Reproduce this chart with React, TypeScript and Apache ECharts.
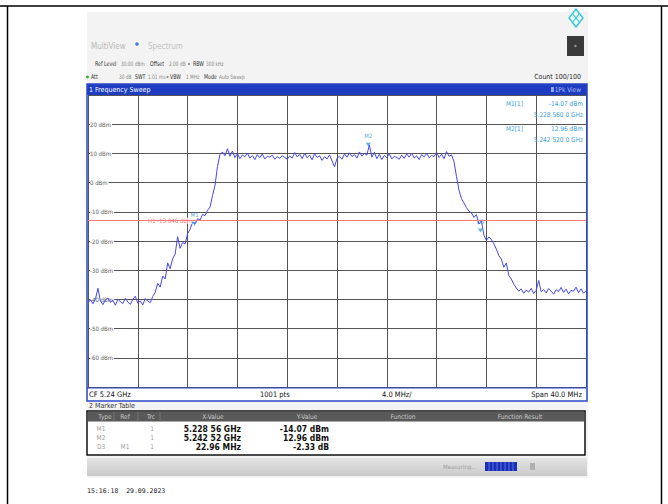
import React, { useEffect, useRef } from "react";
import * as echarts from "echarts";

// ---------- data ----------
const START_MHZ = 5220;
const STOP_MHZ = 5260;
const STEP_MHZ = 0.2;
const DIV_MHZ = 4;
const TOP_DBM = 30;
const BOTTOM_DBM = -70;
const DIV_DB = 10;

// trace level (dBm), one value every 0.2 MHz from 5220 MHz to 5260 MHz
const traceDbm: number[] = [
  -41.2, -40.1, -41.5, -39.8, -36.2, -40.6, -41.8, -40.2, -39.5, -41.0,
  -40.3, -42.0, -39.9, -40.8, -41.4, -39.6, -40.9, -41.7, -40.0, -38.9,
  -41.3, -40.5, -41.9, -39.7, -40.6, -41.1,
  -39.0, -37.5, -34.5, -35.8, -32.0, -33.0, -27.5, -29.5, -26.0, -24.5,
  -18.5, -22.5, -20.5, -21.0, -17.5, -16.0, -13.5, -14.1, -12.4, -12.8,
  -10.9, -11.3, -9.5, -8.4, -4.5, -1.0, 5.5,
  9.6, 10.5, 9.2, 11.6, 9.0, 10.8, 8.6, 9.9, 8.2, 9.5,
  8.8, 10.1, 8.4, 9.3, 7.9, 9.6, 8.5, 9.8, 8.1, 9.0,
  8.7, 9.4, 8.0, 8.9, 8.3, 9.2, 8.6, 8.0, 9.1, 8.4,
  10.3, 8.8, 9.7, 8.2, 10.0, 8.5, 9.4, 7.8, 9.9, 8.6,
  9.2, 7.6, 8.9, 8.1, 9.5, 7.4, 5.4, 8.3, 9.0, 8.0,
  9.8, 8.7, 10.2, 8.9, 9.6, 8.4, 10.5, 9.1, 10.0, 9.4,
  12.9, 8.7, 10.4, 8.2, 9.7, 7.9, 9.3, 8.5, 9.9, 8.1,
  9.0, 8.6, 8.0, 9.4, 8.3, 9.8, 8.7, 10.1, 8.4, 9.2,
  7.9, 9.6, 8.8, 10.0, 8.5, 9.3, 8.9, 10.4, 8.6, 9.7,
  8.2, 10.6, 9.0, 9.5,
  7.2, 2.0, -2.6, -5.5, -7.0, -8.6, -9.8, -10.4, -11.9, -11.0,
  -14.2, -13.1, -18.0, -19.8, -18.6, -19.5, -21.0, -22.8, -25.0, -26.2,
  -29.0, -27.5, -31.8, -33.0, -34.8, -36.1,
  -37.2, -36.4, -37.9, -36.8, -37.5, -36.2, -38.0, -36.9, -33.5, -37.4,
  -36.6, -37.8, -36.3, -37.1, -38.2, -36.7, -37.3, -35.9, -37.6, -36.5,
  -38.1, -36.9, -37.2, -35.8, -37.7, -36.4, -37.9, -37.0,
];

const limitH1Dbm = -13.046;
const limitH1Text = "H1 -13.046 dBm";
const limitH1LabelMHz = 5226.6;

const markerNames = ["M1", "M2", "D3"];
const markerFreqMHz = [5228.56, 5242.52, 5251.52];
const markerDbm = [-14.07, 12.96, -16.4];

const infoLabels = ["M1[1]", "M2[1]"];
const infoLevels = ["-14.07 dBm", "12.96 dBm"];
const infoFreqs = ["5.228 560 0 GHz", "5.242 520 0 GHz"];

const footerTexts = ["CF 5.24 GHz", "1001 pts", "4.0 MHz/", "Span 40.0 MHz"];

const tableHeaders = ["Type", "Ref", "Trc", "X-Value", "Y-Value", "Function", "Function Result"];
const tableType = ["M1", "M2", "D3"];
const tableRef = ["", "", "M1"];
const tableTrc = ["1", "1", "1"];
const tableX = ["5.228 56 GHz", "5.242 52 GHz", "22.96 MHz"];
const tableY = ["-14.07 dBm", "12.96 dBm", "-2.33 dB"];

const timestampText = "15:16:18  29.09.2023";

// ---------- styles ----------
const F = '"Liberation Sans Narrow", "DejaVu Sans Condensed", "Liberation Sans", sans-serif';
const CF = '"DejaVu Sans Condensed", "Liberation Sans Narrow", sans-serif';
const MARKER_BLUE = "#3a9ee0";

function txt(x: number, y: number, text: string, o: any = {}) {
  return {
    type: "text",
    x,
    y,
    scaleX: o.sx ?? 1,
    z: o.z ?? 8,
    silent: true,
    style: {
      text,
      fill: o.color ?? "#333",
      fontSize: o.size ?? 7,
      fontFamily: o.family ?? F,
      fontWeight: o.weight ?? "normal",
      align: o.align ?? "left",
      verticalAlign: "middle",
    },
  };
}
function rect(x: number, y: number, w: number, h: number, style: any, z = 5) {
  return { type: "rect", shape: { x, y, width: w, height: h }, style, z, silent: true };
}
function ln(x1: number, y1: number, x2: number, y2: number, stroke: string, lineWidth = 1, z = 7) {
  return { type: "line", shape: { x1, y1, x2, y2 }, style: { stroke, lineWidth }, z, silent: true };
}

function buildGraphics() {
  const g: any[] = [];
  // screenshot background
  g.push(rect(87, 12, 501, 466, { fill: "#f3f3f3" }, 0));
  // plot white background (incl. footer row)
  g.push(rect(88, 95, 498, 306, { fill: "#ffffff" }, 1));

  // document frame
  g.push(ln(0, 6, 668, 6, "#000", 1.5, 9));
  g.push(ln(7.5, 6, 7.5, 504, "#000", 1.5, 9));
  g.push(ln(661.5, 6, 661.5, 504, "#000", 1.5, 9));

  // header
  g.push(txt(91, 46, "MultiView", { size: 8, color: "#b8b8b8" }));
  g.push({ type: "circle", shape: { cx: 137, cy: 44, r: 1.8 }, style: { fill: "#3b82d6" }, z: 8 });
  g.push(txt(148, 46, "Spectrum", { size: 8, color: "#c2c2c2" }));
  g.push(rect(567, 36, 17, 20, { fill: "#3a3a3a" }, 6));
  g.push({ type: "circle", shape: { cx: 575.5, cy: 46, r: 1.2 }, style: { fill: "#9a9a9a" }, z: 7 });
  // logo
  g.push({
    type: "polygon",
    shape: { points: [[576, 9], [583, 18], [576, 27], [569, 18]] },
    style: { fill: "#eafafc", stroke: "#38c6d6", lineWidth: 1.4 },
    z: 7,
  });
  g.push({
    type: "polyline",
    shape: { points: [[572.5, 13.5], [579.5, 22.5]] },
    style: { stroke: "#38c6d6", lineWidth: 1.2 },
    z: 8,
  });
  g.push({
    type: "polyline",
    shape: { points: [[579.5, 13.5], [572.5, 22.5]] },
    style: { stroke: "#38c6d6", lineWidth: 1.2 },
    z: 8,
  });

  // settings rows (narrowed text)
  const dark = "#2e2e2e";
  const light = "#8a8a8a";
  const L = { color: dark, size: 6.5, sx: 0.8 };
  const V = { color: light, size: 6, sx: 0.8 };
  g.push(txt(95, 64, "Ref Level", L));
  g.push(txt(121, 64, "30.00 dBm", V));
  g.push(txt(150, 64, "Offset", L));
  g.push(txt(169, 64, "2.00 dB", V));
  g.push({ type: "circle", shape: { cx: 189, cy: 64, r: 1.1 }, style: { fill: "#888" }, z: 8 });
  g.push(txt(193, 64, "RBW", L));
  g.push(txt(206, 64, "300 kHz", V));

  g.push({ type: "circle", shape: { cx: 87.5, cy: 77, r: 1.5 }, style: { fill: "#3cb043" }, z: 8 });
  g.push(txt(91, 77, "Att", L));
  g.push(txt(119, 77, "30 dB", V));
  g.push(txt(135, 77, "SWT", L));
  g.push(txt(148, 77, "1.01 ms", V));
  g.push({ type: "circle", shape: { cx: 167.5, cy: 77, r: 1.1 }, style: { fill: "#888" }, z: 8 });
  g.push(txt(170, 77, "VBW", L));
  g.push(txt(186, 77, "1 MHz", V));
  g.push(txt(204, 77, "Mode", L));
  g.push(txt(219, 77, "Auto Sweep", V));
  g.push(txt(581, 77, "Count 100/100", { color: dark, align: "right" }));

  // blue title bar
  g.push(rect(87, 84, 500, 11, { fill: "#1d3cc2" }, 6));
  g.push(txt(89, 89.5, "1 Frequency Sweep", { color: "#ffffff", size: 7 }));
  g.push(txt(581, 89.5, "1Pk View", { color: "#aebcf2", size: 6.5, align: "right" }));
  g.push(rect(551, 87, 3, 5, { fill: "#8ea2ee" }, 7));

  // window frame
  g.push(rect(87, 84, 500, 317, { fill: "none", stroke: "#2b47c8", lineWidth: 1.5 }, 7));
  g.push(ln(87, 388, 587, 388, "#2b47c8", 1, 7));

  // marker info (top-right)
  const infoY = [103.5, 128.5];
  const freqY = [114.5, 139.5];
  infoLabels.forEach((l, i) => {
    g.push(txt(506, infoY[i], l, { color: MARKER_BLUE, size: 6.5 }));
    g.push(txt(583, infoY[i], infoLevels[i], { color: MARKER_BLUE, size: 6.5, align: "right" }));
    g.push(txt(583, freqY[i], infoFreqs[i], { color: MARKER_BLUE, size: 6.5, align: "right" }));
  });

  // footer row
  g.push(txt(89, 394.5, footerTexts[0], { color: "#111", size: 7.5 }));
  g.push(txt(260, 394.5, footerTexts[1], { color: "#111", size: 7.5 }));
  g.push(txt(382, 394.5, footerTexts[2], { color: "#111", size: 7.5 }));
  g.push(txt(582, 394.5, footerTexts[3], { color: "#111", size: 7.5, align: "right" }));

  // marker table
  g.push(txt(89, 406, "2 Marker Table", { color: "#333", size: 7 }));
  g.push(rect(87, 411, 498, 44, { fill: "#ffffff", stroke: "#111", lineWidth: 1.5 }, 4));
  g.push(rect(88, 412, 496, 9.5, { fill: "#595959" }, 5));
  const headX = [105, 125, 151, 213, 307, 403, 520];
  tableHeaders.forEach((h, i) => {
    g.push(txt(headX[i], 417, h, { color: "#c9c9c9", size: 6.5, align: "center" }));
  });
  [114, 138, 160].forEach((x) => g.push(ln(x, 412, x, 421.5, "#777", 1, 6)));
  const rowY = [428.5, 437.5, 446.5];
  tableType.forEach((t, i) => {
    g.push(txt(101, rowY[i], t, { color: "#9a9a9a", size: 6.5, align: "center" }));
    if (tableRef[i]) g.push(txt(125, rowY[i], tableRef[i], { color: "#9a9a9a", size: 6.5, align: "center" }));
    g.push(txt(152, rowY[i], tableTrc[i], { color: "#9a9a9a", size: 6.5, align: "center" }));
    g.push(txt(241, rowY[i], tableX[i], { color: "#111", size: 8.5, weight: "bold", family: CF, align: "right" }));
    g.push(txt(329, rowY[i], tableY[i], { color: "#111", size: 8.5, weight: "bold", family: CF, align: "right" }));
  });

  // status bar
  g.push(
    rect(87, 458, 500, 18, {
      fill: {
        type: "linear", x: 0, y: 0, x2: 0, y2: 1,
        colorStops: [
          { offset: 0, color: "#e4e4e4" },
          { offset: 1, color: "#cacaca" },
        ],
      },
    }, 4)
  );
  g.push(txt(443, 466, "Measuring...", { color: "#a0a0a0", size: 6 }));
  g.push(rect(485, 462, 32, 9, { fill: "#1a2fb8" }, 5));
  [489, 493, 497, 501, 505, 509, 513].forEach((x) => g.push(ln(x, 462, x, 471, "#5b70e2", 1, 6)));
  g.push(rect(530, 463, 5, 7, { fill: "#b0b0b0" }, 5));

  // timestamp
  g.push(txt(87, 491, timestampText, { color: "#1a1a1a", size: 6.5, family: '"DejaVu Sans Mono", monospace' }));
  return g;
}

export default function App() {
  const ref = useRef<HTMLDivElement>(null);
  useEffect(() => {
    if (!ref.current) return;
    const chart = echarts.init(ref.current, undefined, { renderer: "svg" });
    const option: any = {
      animation: false,
      backgroundColor: "#ffffff",
      grid: { left: 88, top: 95, width: 498, height: 292, show: false, containLabel: false, outerBoundsMode: "none" },
      xAxis: {
        type: "value",
        min: START_MHZ,
        max: STOP_MHZ,
        interval: DIV_MHZ,
        z: 2,
        axisLine: { show: false },
        axisTick: { show: false },
        axisLabel: { show: false },
        splitLine: { show: true, lineStyle: { color: "#555555", width: 1 } },
      },
      yAxis: {
        type: "value",
        min: BOTTOM_DBM,
        max: TOP_DBM,
        interval: DIV_DB,
        z: 2,
        axisLine: { show: false },
        axisTick: { show: false },
        splitLine: { show: true, lineStyle: { color: "#555555", width: 1 } },
        axisLabel: {
          show: true,
          inside: true,
          margin: 2,
          fontSize: 6,
          fontFamily: F,
          color: "#5a5a5a",
          backgroundColor: "#ffffff",
          padding: [0, 1, 0, 0],
          formatter: (v: number) => (v === TOP_DBM || v === BOTTOM_DBM ? "" : `${v} dBm`),
        },
      },
      series: [
        {
          type: "line",
          data: traceDbm.map((v, i) => [START_MHZ + i * STEP_MHZ, v]),
          symbol: "none",
          z: 3,
          lineStyle: { color: "#4646ee", width: 1 },
          markLine: {
            silent: true,
            symbol: ["none", "none"],
            label: { show: false },
            lineStyle: { color: "#ff7878", width: 1, type: "solid" },
            data: [{ yAxis: limitH1Dbm }],
          },
        },
        {
          type: "scatter",
          z: 4,
          data: [{ name: limitH1Text, value: [limitH1LabelMHz, limitH1Dbm] }],
          symbolSize: 1,
          itemStyle: { color: "rgba(0,0,0,0)" },
          label: {
            show: true,
            formatter: "{b}",
            position: "inside",
            fontSize: 6,
            fontFamily: F,
            color: "#ff4a4a",
            backgroundColor: "#ffffff",
          },
        },
        {
          type: "scatter",
          z: 5,
          data: markerFreqMHz.map((f, i) => ({ name: markerNames[i], value: [f, markerDbm[i]] })),
          symbol: "triangle",
          symbolRotate: 180,
          symbolSize: [5, 4],
          itemStyle: { color: MARKER_BLUE },
          label: {
            show: true,
            formatter: "{b}",
            position: "top",
            distance: 4,
            fontSize: 6,
            fontFamily: F,
            color: "#2f8fd6",
          },
        },
      ],
      graphic: { elements: buildGraphics() },
    };
    chart.setOption(option);
    return () => chart.dispose();
  }, []);
  return (
    <div
      ref={ref}
      style={{ position: "fixed", left: 0, top: 0, width: 668, height: 504 }}
    />
  );
}
